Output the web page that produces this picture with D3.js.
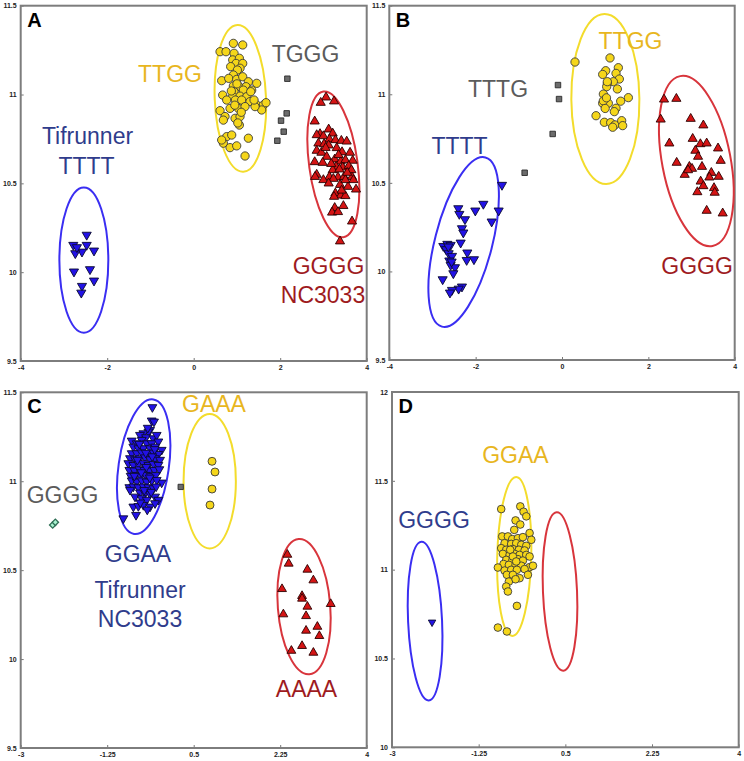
<!DOCTYPE html>
<html><head><meta charset="utf-8">
<script src="https://cdn.jsdelivr.net/npm/d3@7"></script>
<style>body{margin:0;background:#fff;} svg{display:block;font-family:"Liberation Sans",Arial,sans-serif;}</style>
</head><body><svg id="chart" width="744" height="761"></svg>
<script>
// ---------- tick values ----------
const ticksAB_x = [-4, -2, 0, 2, 4];
const ticksAB_y = [9.5, 10, 10.5, 11, 11.5];
const ticksCD_x = [-3, -1.25, 0.5, 2.25, 4];
const ticksC_y = [9.5, 10, 10.5, 11, 11.5];
const ticksD_y = [10, 10.5, 11, 11.5, 12];

// ---------- panel A ----------
const panelA_TTTT = [[-2.474,10.21],[-2.784,10.153],[-2.474,10.153],[-2.583,10.115],[-2.305,10.121],[-2.738,10.106],[-2.768,10.003],[-2.398,10.016],[-2.305,9.952],[-2.583,9.922],[-2.599,9.884],[-2.70,10.14]];
const panelA_TTGG = [[0.917,11.288],[1.133,11.279],[0.609,11.241],[0.747,11.241],[0.933,11.232],[0.902,11.195],[1.056,11.204],[0.979,11.175],[1.133,11.175],[0.855,11.157],[1.071,11.148],[1.010,11.138],[0.917,11.110],[0.647,11.078],[0.809,11.091],[0.994,11.085],[1.133,11.100],[1.264,11.072],[1.457,11.063],[0.917,11.048],[1.056,11.044],[1.210,11.044],[1.341,11.025],[1.148,11.025],[0.933,11.016],[0.670,10.997],[0.902,10.991],[1.071,10.991],[1.225,10.988],[1.318,11.016],[0.763,10.969],[0.964,10.969],[1.110,10.969],[1.302,10.960],[1.457,10.941],[1.611,10.941],[1.672,10.954],[1.572,10.913],[0.609,10.909],[0.840,10.922],[1.033,10.922],[1.187,10.932],[0.724,10.876],[0.956,10.866],[1.071,10.876],[1.056,10.828],[0.686,10.856],[0.763,10.763],[0.879,10.772],[0.686,10.726],[0.840,10.701],[0.994,10.711],[1.264,10.754],[1.187,10.654],[0.647,10.744],[1.418,10.932],[1.395,10.969],[1.0,11.06],[0.95,10.94],[1.1,10.90],[0.87,11.02],[1.02,10.84]];
const panelA_TGGG = [[2.166,11.089],[2.150,10.894],[2.019,10.853],[2.081,10.791],[1.934,10.740]];
const panelA_GGGG = [[3.060,10.984],[2.937,10.954],[3.245,10.962],[2.798,10.849],[3.121,10.804],[2.921,10.778],[2.844,10.772],[2.998,10.766],[3.214,10.781],[3.137,10.748],[3.276,10.744],[3.414,10.740],[3.538,10.736],[2.883,10.725],[3.014,10.721],[3.121,10.714],[2.844,10.684],[2.952,10.673],[3.306,10.699],[3.430,10.676],[3.615,10.673],[3.075,10.650],[2.798,10.620],[2.983,10.616],[3.260,10.635],[3.399,10.624],[3.507,10.631],[3.676,10.628],[3.291,10.594],[3.445,10.590],[3.584,10.598],[3.214,10.575],[3.368,10.579],[2.844,10.549],[3.137,10.537],[3.337,10.534],[3.476,10.537],[3.661,10.537],[2.998,10.519],[3.229,10.526],[3.121,10.500],[3.383,10.492],[3.568,10.481],[3.753,10.466],[3.276,10.444],[3.399,10.432],[3.245,10.425],[3.507,10.429],[3.461,10.373],[3.260,10.362],[3.199,10.336],[3.337,10.339],[3.661,10.286],[3.383,10.174],[3.646,10.575],[3.692,10.519],[2.806,10.537],[3.507,10.519],[3.05,10.70],[3.35,10.66],[3.18,10.61],[3.55,10.56],[3.42,10.46]];
// ellipses: centre (data), semi-axes (data units), tilt (degrees)
const panelA_ellipses = [
  {group:"blue",   cx:-2.540, cy:10.068, rx:0.566, ry:0.409, tilt:0},
  {group:"yellow", cx:1.079,  cy:10.978, rx:0.593, ry:0.413, tilt:-2.3},
  {group:"red",    cx:3.229,  cy:10.607, rx:0.560, ry:0.414, tilt:-7.8}
];
const panelA_labels = [
  {text:"TTGG", x:-0.548, y:11.071, group:"yellow"},
  {text:"TGGG", x:2.585, y:11.183, group:"grey"},
  {text:"Tifrunner", x:-2.455, y:10.722, group:"blue"},
  {text:"TTTT", x:-2.479, y:10.553, group:"blue"},
  {text:"GGGG", x:3.117, y:9.990, group:"red"},
  {text:"NC3033", x:2.99, y:9.827, group:"red"}
];

// ---------- panel B ----------
const panelB_TTTT = [[-1.822,10.381],[-2.402,10.356],[-2.008,10.343],[-1.467,10.343],[-2.378,10.324],[-2.247,10.294],[-1.629,10.281],[-2.317,10.243],[-2.286,10.219],[-2.347,10.162],[-2.749,10.143],[-2.656,10.155],[-2.579,10.149],[-2.687,10.125],[-2.625,10.102],[-2.193,10.106],[-2.548,10.087],[-2.208,10.064],[-2.039,10.068],[-2.610,10.061],[-2.579,10.036],[-2.479,10.023],[-2.517,9.989],[-2.764,9.955],[-2.317,9.914],[-2.394,9.902],[-2.548,9.895],[-2.595,9.880],[-2.633,10.140],[-2.556,10.055],[-1.39,10.488]];
const panelB_TTGG = [[0.301,11.182],[1.112,11.205],[1.305,11.150],[1.012,11.133],[1.251,11.118],[0.942,11.112],[1.328,11.086],[1.189,11.071],[1.050,11.062],[1.035,11.043],[1.282,11.030],[0.958,11.001],[0.996,10.968],[0.942,10.949],[1.073,10.949],[1.359,10.961],[1.537,10.981],[1.251,10.921],[1.212,10.902],[0.788,10.879],[0.981,10.842],[1.127,10.840],[1.228,10.827],[1.382,10.851],[1.405,10.823],[1.174,10.814],[0.958,10.963],[1.050,11.071],[1.0,10.92],[1.03,10.98]];
const panelB_TTTG = [[-0.093,11.052],[-0.069,10.973],[-0.216,10.776],[-0.865,10.557]];
const panelB_GGGG = [[2.363,10.971],[2.649,10.975],[2.286,10.858],[2.981,10.862],[3.274,10.825],[2.486,10.723],[3.027,10.749],[3.205,10.719],[3.351,10.723],[3.089,10.682],[3.151,10.648],[3.614,10.695],[2.656,10.614],[3.676,10.625],[2.950,10.591],[3.012,10.580],[2.842,10.546],[3.243,10.591],[3.459,10.557],[3.413,10.531],[3.212,10.508],[3.629,10.535],[3.274,10.482],[3.521,10.471],[3.135,10.448],[3.537,10.445],[3.351,10.343],[3.722,10.328],[2.919,10.572]];
const panelB_ellipses = [
  {group:"blue",   cx:-2.278, cy:10.166, rx:0.664, ry:0.493, tilt:14.4},
  {group:"yellow", cx:1.004,  cy:10.973, rx:0.788, ry:0.480, tilt:-0.6},
  {group:"red",    cx:3.112,  cy:10.623, rx:0.793, ry:0.488, tilt:-10.8}
];
const panelB_labels = [
  {text:"TTGG", x:1.587, y:11.256, group:"yellow"},
  {text:"TTTG", x:-1.482, y:10.985, group:"grey"},
  {text:"TTTT", x:-2.374, y:10.663, group:"blue"},
  {text:"GGGG", x:3.128, y:9.985, group:"red"}
];

// ---------- panel C ----------
const panelC_GGAA = [[-0.336,11.416],[-0.350,11.341],[-0.303,11.335],[-0.383,11.288],[-0.417,11.279],[-0.518,11.269],[-0.586,11.260],[-0.754,11.228],[-0.464,11.247],[-0.552,11.232],[-0.316,11.241],[-0.249,11.260],[-0.653,11.213],[-0.451,11.213],[-0.350,11.213],[-0.215,11.223],[-0.721,11.194],[-0.620,11.185],[-0.518,11.185],[-0.383,11.185],[-0.282,11.194],[-0.148,11.176],[-0.754,11.157],[-0.653,11.157],[-0.552,11.161],[-0.417,11.157],[-0.316,11.161],[-0.215,11.153],[-0.788,11.129],[-0.687,11.123],[-0.586,11.129],[-0.485,11.134],[-0.383,11.123],[-0.282,11.129],[-0.181,11.120],[-0.822,11.101],[-0.721,11.091],[-0.620,11.097],[-0.518,11.101],[-0.417,11.091],[-0.316,11.097],[-0.215,11.091],[-0.802,11.063],[-0.700,11.060],[-0.599,11.067],[-0.498,11.063],[-0.397,11.060],[-0.296,11.063],[-0.195,11.067],[-0.775,11.030],[-0.673,11.035],[-0.572,11.030],[-0.471,11.035],[-0.370,11.030],[-0.269,11.034],[-0.148,10.992],[-0.754,11.004],[-0.653,10.998],[-0.552,11.004],[-0.451,10.998],[-0.350,11.004],[-0.249,11.007],[-0.802,10.966],[-0.721,10.970],[-0.620,10.966],[-0.518,10.970],[-0.417,10.966],[-0.316,10.960],[-0.586,10.936],[-0.485,10.932],[-0.383,10.928],[-0.282,10.913],[-0.687,10.913],[-0.552,10.904],[-0.451,10.895],[-0.215,10.895],[-0.721,10.857],[-0.620,10.860],[-0.518,10.866],[-0.383,10.857],[-0.282,10.876],[-0.667,10.810],[-0.923,10.791],[-0.788,10.951],[-0.43,11.30],[-0.60,11.21],[-0.34,11.14],[-0.46,11.08],[-0.56,11.05],[-0.39,11.02],[-0.64,11.12],[-0.29,11.18],[-0.50,10.95],[-0.70,11.03],[-0.36,10.94],[-0.58,10.88],[-0.44,10.84],[-0.26,10.97],[-0.47,11.16]];
const panelC_GAAA = [[0.871,11.112],[0.931,11.052],[0.871,10.956],[0.830,10.866]];
const panelC_grey = [[0.237,10.968]];
const panelC_GGGG = [[-2.353,10.754],[-2.299,10.769]];
const panelC_AAAA = [[2.395,10.587],[2.422,10.537],[2.800,10.503],[2.921,10.443],[2.287,10.394],[2.692,10.355],[2.692,10.340],[2.800,10.295],[3.272,10.310],[2.314,10.252],[2.773,10.242],[3.002,10.182],[3.042,10.130],[2.773,10.160],[2.476,10.047],[2.692,10.074],[2.921,10.036]];
const panelC_ellipses = [
  {group:"blue",   cx:-0.512, cy:11.082, rx:0.508, ry:0.382, tilt:8.2},
  {group:"yellow", cx:0.824,  cy:11.0,   rx:0.529, ry:0.378, tilt:0},
  {group:"red",    cx:2.732,  cy:10.295, rx:0.530, ry:0.381, tilt:-4.5}
];
const panelC_labels = [
  {text:"GAAA", x:0.911, y:11.391, group:"yellow"},
  {text:"GGGG", x:-2.154, y:10.878, group:"grey"},
  {text:"GGAA", x:-0.627, y:10.548, group:"blue"},
  {text:"Tifrunner", x:-0.586, y:10.343, group:"blue"},
  {text:"NC3033", x:-0.586, y:10.182, group:"blue"},
  {text:"AAAA", x:2.782, y:9.787, group:"red"}
];

// ---------- panel D ----------
const panelD_GGGG = [[-2.191,10.704]];
const panelD_GGAA = [[-0.795,11.341],[-0.410,11.356],[-0.343,11.326],[-0.289,11.300],[-0.505,11.277],[-0.410,11.254],[-0.532,11.224],[-0.222,11.206],[-0.775,11.187],[-0.660,11.187],[-0.572,11.172],[-0.458,11.177],[-0.357,11.183],[-0.188,11.168],[-0.727,11.149],[-0.593,11.145],[-0.492,11.149],[-0.390,11.140],[-0.289,11.134],[-0.795,11.121],[-0.694,11.112],[-0.559,11.116],[-0.438,11.112],[-0.323,11.108],[-0.761,11.089],[-0.626,11.083],[-0.525,11.089],[-0.424,11.083],[-0.289,11.083],[-0.694,11.055],[-0.572,11.051],[-0.458,11.059],[-0.357,11.051],[-0.222,11.074],[-0.748,11.032],[-0.640,11.027],[-0.505,11.027],[-0.390,11.022],[-0.222,11.014],[-0.862,11.012],[-0.154,11.022],[-0.727,10.995],[-0.593,10.999],[-0.478,10.999],[-0.323,11.003],[-0.680,10.971],[-0.559,10.971],[-0.424,10.952],[-0.256,10.971],[-0.640,10.933],[-0.505,10.946],[-0.694,10.905],[-0.660,10.877],[-0.478,10.796],[-0.862,10.674],[-0.680,10.652],[-0.613,11.112],[-0.559,11.074],[-0.492,11.046]];
const panelD_ellipses = [
  {group:"blue",   cx:-2.332, cy:10.710, rx:0.343, ry:0.447, tilt:-2.65},
  {group:"yellow", cx:-0.532, cy:11.074, rx:0.343, ry:0.447, tilt:1.44},
  {group:"red",    cx:0.392,  cy:10.877, rx:0.344, ry:0.446, tilt:-2.4}
];
const panelD_labels = [
  {text:"GGAA", x:-0.507, y:11.600, group:"yellow"},
  {text:"GGGG", x:-2.152, y:11.234, group:"blue"}
];

// ---------- styles ----------
const markerStyle = {
  yellowCircle: {type:d3.symbolCircle,   fill:"#F5D61A", stroke:"#3a3a3a", rot:0, sw:0.9},
  redTriangle:  {type:d3.symbolTriangle, fill:"#D41414", stroke:"#2a0000", rot:0, sw:0.9},
  blueTriangle: {type:d3.symbolTriangle, fill:"#2212E6", stroke:"#0a0a30", rot:180, sw:0.9},
  greySquare:   {type:d3.symbolSquare,   fill:"#6c6c6c", stroke:"#2a2a2a", rot:0, sw:0.9},
  greenDiamond: {type:d3.symbolSquare,   fill:"#A8F2CF", stroke:"#2f6e55", rot:45, sw:1.3}
};
const ellipseColor = {blue:"#3A2EF2", yellow:"#F3DC2C", red:"#D8353C"};
const labelColor = {yellow:"#E8B61E", grey:"#5b5b5b", blue:"#2F3C8C", red:"#9E1B1E"};

const panels = [
  {letter:"A", rect:[20.7,5.7,366.7,361], xDom:[-4,4], yDom:[9.5,11.5], xTicks:ticksAB_x, yTicks:ticksAB_y,
   ellipses:panelA_ellipses, labels:panelA_labels,
   series:[{data:panelA_TGGG,m:"greySquare",size:30},{data:panelA_TTTT,m:"blueTriangle",size:36},{data:panelA_TTGG,m:"yellowCircle",size:54},{data:panelA_GGGG,m:"redTriangle",size:36}]},
  {letter:"B", rect:[389.3,5.7,734.7,360], xDom:[-4,4], yDom:[9.5,11.5], xTicks:ticksAB_x, yTicks:ticksAB_y,
   ellipses:panelB_ellipses, labels:panelB_labels,
   series:[{data:panelB_TTTG,m:"greySquare",size:30},{data:panelB_TTTT,m:"blueTriangle",size:36},{data:panelB_TTGG,m:"yellowCircle",size:54},{data:panelB_GGGG,m:"redTriangle",size:36}]},
  {letter:"C", rect:[20.7,392.3,366.7,748], xDom:[-3,4], yDom:[9.5,11.5], xTicks:ticksCD_x, yTicks:ticksC_y,
   ellipses:panelC_ellipses, labels:panelC_labels,
   series:[{data:panelC_grey,m:"greySquare",size:28},{data:panelC_GGGG,m:"greenDiamond",size:20},{data:panelC_GGAA,m:"blueTriangle",size:34},{data:panelC_GAAA,m:"yellowCircle",size:50},{data:panelC_AAAA,m:"redTriangle",size:34}]},
  {letter:"D", rect:[392,392,738.7,747.3], xDom:[-3,4], yDom:[10,12], xTicks:ticksCD_x, yTicks:ticksD_y,
   ellipses:panelD_ellipses, labels:panelD_labels,
   series:[{data:panelD_GGGG,m:"blueTriangle",size:24},{data:panelD_GGAA,m:"yellowCircle",size:46}]}
];

const svg = d3.select("#chart");

panels.forEach(p => {
  const [x0,y0,x1,y1] = p.rect;
  const x = d3.scaleLinear().domain(p.xDom).range([x0,x1]);
  const y = d3.scaleLinear().domain(p.yDom).range([y1,y0]);
  const g = svg.append("g");

  // axes
  const fmt = d => String(d);
  const xa = g.append("g").attr("transform",`translate(0,${y1})`)
    .call(d3.axisBottom(x).tickValues(p.xTicks).tickFormat(fmt).tickSizeInner(-3).tickSizeOuter(0).tickPadding(4));
  const ya = g.append("g").attr("transform",`translate(${x0},0)`)
    .call(d3.axisLeft(y).tickValues(p.yTicks).tickFormat(fmt).tickSizeInner(-3).tickSizeOuter(0).tickPadding(4));
  [xa,ya].forEach(a => {
    a.select(".domain").remove();
    a.selectAll(".tick line").attr("stroke","#777").attr("stroke-width",1);
    a.selectAll(".tick text").attr("fill","#222").attr("font-size",7).attr("font-weight","bold")
      .attr("font-family","'Liberation Sans',Arial,sans-serif");
  });

  // frame
  g.append("rect").attr("x",x0).attr("y",y0).attr("width",x1-x0).attr("height",y1-y0)
    .attr("fill","none").attr("stroke","#7d7d7d").attr("stroke-width",2);

  // ellipses
  g.selectAll("ellipse.grp").data(p.ellipses).join("ellipse")
    .attr("cx",d=>x(d.cx)).attr("cy",d=>y(d.cy))
    .attr("rx",d=>Math.abs(x(d.cx+d.rx)-x(d.cx)))
    .attr("ry",d=>Math.abs(y(d.cy+d.ry)-y(d.cy)))
    .attr("transform",d=>`rotate(${d.tilt},${x(d.cx)},${y(d.cy)})`)
    .attr("fill","none").attr("stroke",d=>ellipseColor[d.group]).attr("stroke-width",2);

  // points
  p.series.forEach(s => {
    const st = markerStyle[s.m];
    const sym = d3.symbol().type(st.type).size(s.size);
    g.append("g").selectAll("path").data(s.data).join("path")
      .attr("d",sym)
      .attr("transform",d=>`translate(${x(d[0])},${y(d[1])}) rotate(${st.rot})`)
      .attr("fill",st.fill).attr("stroke",st.stroke).attr("stroke-width",st.sw);
  });

  // group labels
  g.selectAll("text.lab").data(p.labels).join("text").attr("class","lab")
    .attr("x",d=>x(d.x)).attr("y",d=>y(d.y))
    .attr("text-anchor","middle").attr("font-size",23)
    .attr("fill",d=>labelColor[d.group]).text(d=>d.text);

  // panel letter
  g.append("text").attr("x",x0+6.5).attr("y",y0+21).attr("font-size",20).attr("font-weight","bold")
    .attr("fill","#000").text(p.letter);
});
</script>
</body></html>
